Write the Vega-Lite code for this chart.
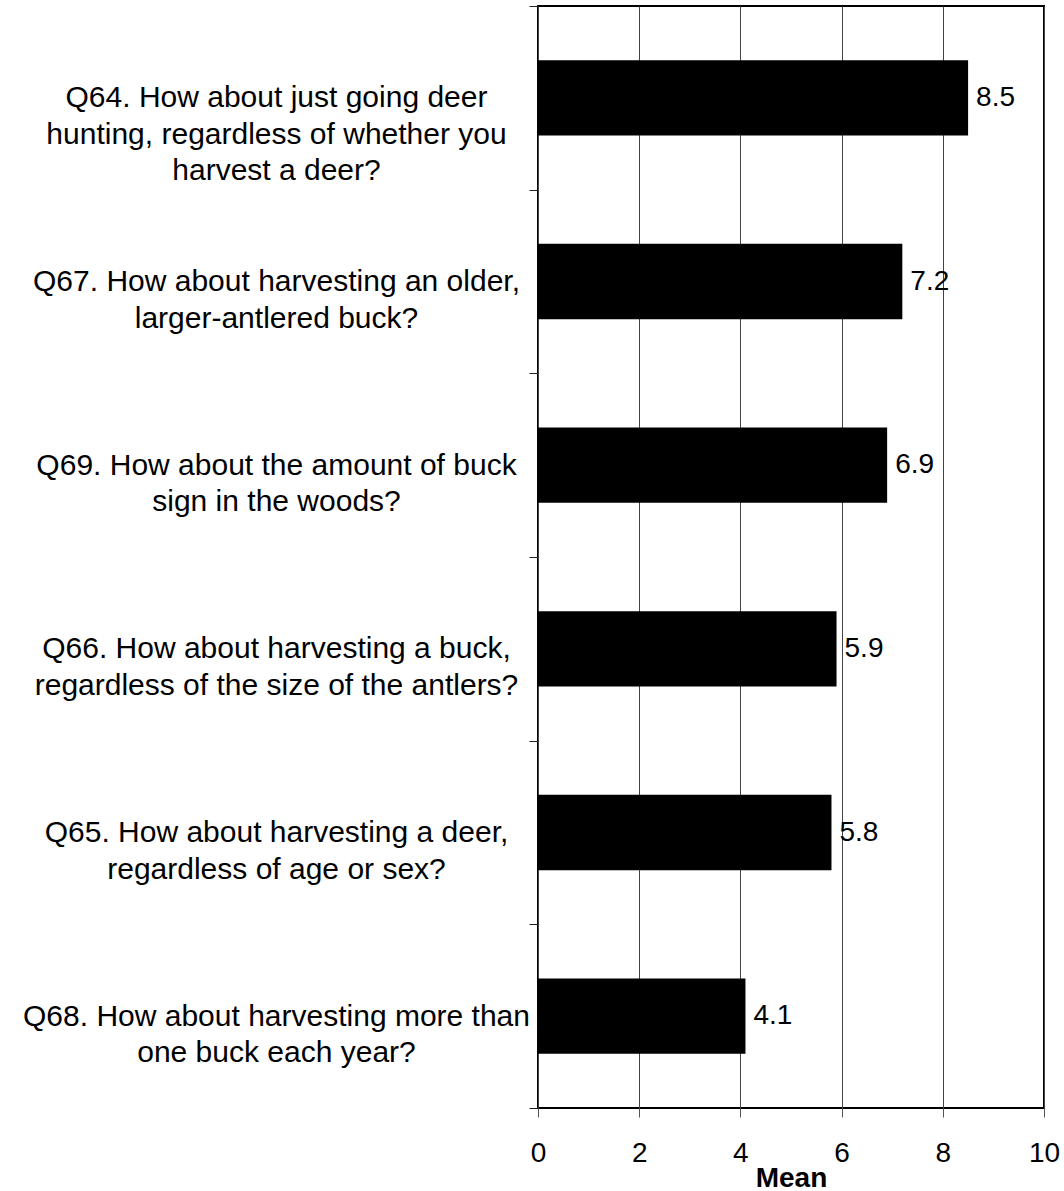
{
  "$schema": "https://vega.github.io/schema/vega-lite/v6.json",
  "autosize": "none",
  "width": 506,
  "height": 1102,
  "padding": {"left": 538, "top": 6, "right": 20, "bottom": 83},
  "background": "white",
  "config": {
    "font": "Liberation Sans",
    "view": {"stroke": "black", "strokeWidth": 2}
  },
  "data": {
    "values": [
      {"question": "Q64. How about just going deer\nhunting, regardless of whether you\nharvest a deer?", "mean": 8.5},
      {"question": "Q67. How about harvesting an older,\nlarger-antlered buck?", "mean": 7.2},
      {"question": "Q69. How about the amount of buck\nsign in the woods?", "mean": 6.9},
      {"question": "Q66. How about harvesting a buck,\nregardless of the size of the antlers?", "mean": 5.9},
      {"question": "Q65. How about harvesting a deer,\nregardless of age or sex?", "mean": 5.8},
      {"question": "Q68. How about harvesting more than\none buck each year?", "mean": 4.1}
    ]
  },
  "encoding": {
    "y": {
      "field": "question",
      "type": "nominal",
      "sort": null,
      "scale": {"paddingInner": 0, "paddingOuter": 0},
      "axis": {
        "title": null,
        "domain": false,
        "tickBand": "extent",
        "ticks": true,
        "tickSize": 9,
        "tickColor": "#222",
        "labelExpr": "split(datum.label, '\\n')",
        "labelAlign": "center",
        "labelBaseline": "middle",
        "labelPadding": 253,
        "labelFontSize": 30,
        "labelLineHeight": 36.5,
        "labelColor": "black",
        "labelLimit": 0
      }
    },
    "x": {
      "field": "mean",
      "type": "quantitative",
      "scale": {"domain": [0, 10], "nice": false},
      "axis": {
        "title": "Mean",
        "values": [0, 2, 4, 6, 8, 10],
        "grid": true,
        "gridColor": "#444",
        "gridWidth": 1,
        "domain": false,
        "tickSize": 9,
        "tickColor": "#555",
        "labelFontSize": 28,
        "labelColor": "black",
        "labelPadding": 22,
        "labelFlush": false,
        "titleFontSize": 28,
        "titleFontWeight": "bold",
        "titleColor": "black",
        "titlePadding": -3
      }
    }
  },
  "layer": [
    {"mark": {"type": "bar", "color": "black", "height": {"band": 0.41}}},
    {
      "mark": {"type": "text", "align": "left", "baseline": "middle", "dx": 8, "fontSize": 28, "color": "black"},
      "encoding": {"text": {"field": "mean", "type": "quantitative", "format": ".1f"}}
    }
  ]
}
